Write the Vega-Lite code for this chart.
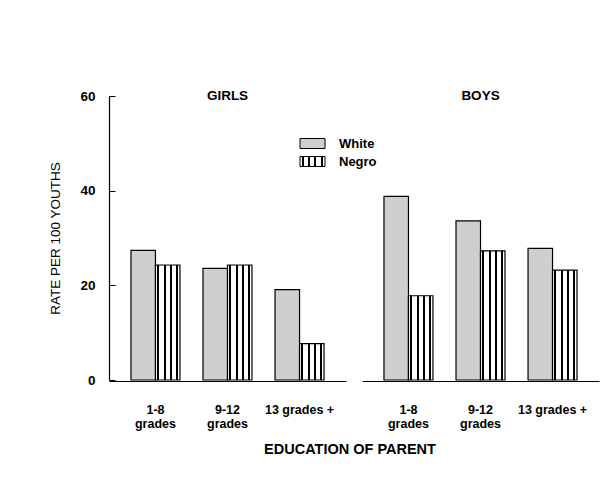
{
  "$schema": "https://vega.github.io/schema/vega-lite/v6.json",
  "padding": {"left": 48, "top": 89, "right": 5, "bottom": 5},
  "background": "white",
  "config": {"view": {"stroke": null}, "font": "Liberation Sans"},
  "title": {"text": "EDUCATION OF PARENT", "orient": "bottom", "anchor": "middle", "fontSize": 14.5, "fontWeight": "bold", "offset": 13, "dx": 26, "color": "black"},
  "data": {"values": [
    {"sex": "GIRLS", "education": "1-8 grades", "race": "White", "rate": 27.4},
    {"sex": "GIRLS", "education": "1-8 grades", "race": "Negro", "rate": 24.3},
    {"sex": "GIRLS", "education": "9-12 grades", "race": "White", "rate": 23.6},
    {"sex": "GIRLS", "education": "9-12 grades", "race": "Negro", "rate": 24.3},
    {"sex": "GIRLS", "education": "13 grades +", "race": "White", "rate": 19.1},
    {"sex": "GIRLS", "education": "13 grades +", "race": "Negro", "rate": 7.7},
    {"sex": "BOYS", "education": "1-8 grades", "race": "White", "rate": 38.8},
    {"sex": "BOYS", "education": "1-8 grades", "race": "Negro", "rate": 17.8},
    {"sex": "BOYS", "education": "9-12 grades", "race": "White", "rate": 33.6},
    {"sex": "BOYS", "education": "9-12 grades", "race": "Negro", "rate": 27.3},
    {"sex": "BOYS", "education": "13 grades +", "race": "White", "rate": 27.8},
    {"sex": "BOYS", "education": "13 grades +", "race": "Negro", "rate": 23.2}
  ]},
  "facet": {"column": {"field": "sex", "type": "nominal", "sort": ["GIRLS", "BOYS"], "header": null}},
  "spacing": 16,
  "spec": {
    "width": 237,
    "height": 284,
    "layer": [
      {
        "mark": {"type": "bar", "stroke": "black", "strokeWidth": 1.2},
        "encoding": {
          "x": {"field": "education", "type": "nominal", "sort": ["1-8 grades", "9-12 grades", "13 grades +"],
            "scale": {"paddingInner": 0.32, "paddingOuter": 0.305},
            "axis": {"title": null, "domainColor": "black", "domainWidth": 1.2, "ticks": false, "labelAngle": 0, "labelFontSize": 12.5, "labelFontWeight": "bold", "labelColor": "black", "labelPadding": 22, "labelLineHeight": 14,
              "labelExpr": "datum.value === '13 grades +' ? datum.value : split(datum.value, ' ')"}},
          "xOffset": {"field": "race", "type": "nominal", "sort": ["White", "Negro"]},
          "y": {"field": "rate", "type": "quantitative", "scale": {"domain": [0, 60]},
            "axis": {"title": "RATE PER 100 YOUTHS", "titleFontSize": 13.5, "titleFontWeight": "normal", "titleColor": "black", "titlePadding": 17,
              "values": [0, 20, 40, 60], "grid": false, "domainColor": "black", "domainWidth": 1.2, "tickColor": "black", "tickSize": -6,
              "labelFontSize": 13.5, "labelFontWeight": "bold", "labelPadding": 20, "labelColor": "black"}},
          "fill": {
            "field": "race", "type": "nominal",
            "scale": {"domain": ["White", "Negro"], "range": ["#cfcfcf", {"expr": "{gradient: 'linear', x1: 0, y1: 0, x2: 1, y2: 0, stops: [{offset: 0, color: 'white'}, {offset: 0.08, color: 'white'}, {offset: 0.08, color: 'black'}, {offset: 0.16, color: 'black'}, {offset: 0.16, color: 'white'}, {offset: 0.33, color: 'white'}, {offset: 0.33, color: 'black'}, {offset: 0.41, color: 'black'}, {offset: 0.41, color: 'white'}, {offset: 0.58, color: 'white'}, {offset: 0.58, color: 'black'}, {offset: 0.66, color: 'black'}, {offset: 0.66, color: 'white'}, {offset: 0.83, color: 'white'}, {offset: 0.83, color: 'black'}, {offset: 0.91, color: 'black'}, {offset: 0.91, color: 'white'}, {offset: 1, color: 'white'}]}"}]},
            "legend": {"orient": "none", "legendX": 193, "legendY": 37, "title": null, "symbolType": "M-1.25,-0.5H1.25V0.5H-1.25Z", "symbolSize": 400,
              "symbolStrokeColor": "black", "symbolStrokeWidth": 1, "labelFontSize": 13, "labelFontWeight": "bold", "labelOffset": 16, "rowPadding": 0, "labelColor": "black"}}
        }
      },
      {
        "transform": [{"filter": "datum.education === '9-12 grades' && datum.race === 'White'"}],
        "mark": {"type": "text", "fontWeight": "bold", "fontSize": 13.5, "baseline": "middle", "color": "black"},
        "encoding": {
          "x": {"field": "education", "type": "nominal", "sort": ["1-8 grades", "9-12 grades", "13 grades +"]},
          "y": {"datum": 60, "type": "quantitative"},
          "text": {"field": "sex"}
        }
      }
    ]
  }
}
